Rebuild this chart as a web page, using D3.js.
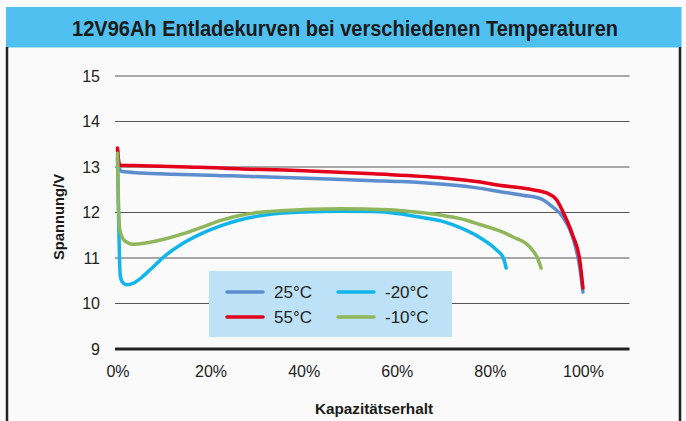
<!DOCTYPE html>
<html><head><meta charset="utf-8">
<script src="https://cdn.jsdelivr.net/npm/d3@7"></script>
<style>html,body{margin:0;padding:0;background:#fafafa;}svg{display:block;}</style>
</head><body>
<script>
const title = "12V96Ah Entladekurven bei verschiedenen Temperaturen";
const yTicks = [9, 10, 11, 12, 13, 14, 15];
const xTicks = [0, 20, 40, 60, 80, 100];
const seriesNames = ["25°C", "55°C", "-20°C", "-10°C"];
const seriesColors = ["#5b8dcf", "#e3001b", "#12b5ea", "#8fb65a"];

const cap25 = [0, 0.3, 0.6, 1, 5, 12, 22, 26, 39, 55, 61, 70, 78, 82, 87, 91, 93.5, 95.7, 97.8, 99.3, 100];
const v25   = [13.38, 13.0, 12.93, 12.9, 12.87, 12.84, 12.81, 12.8, 12.76, 12.7, 12.68, 12.62, 12.53, 12.46, 12.38, 12.3, 12.12, 11.9, 11.46, 10.8, 10.25];

const cap55 = [0, 0.3, 0.6, 5, 15, 22, 26, 40, 55, 70, 78, 82, 88, 92.2, 94.4, 96, 97.8, 99.3, 100];
const v55   = [13.42, 13.1, 13.04, 13.03, 13.0, 12.98, 12.96, 12.92, 12.85, 12.76, 12.67, 12.6, 12.52, 12.43, 12.27, 11.95, 11.5, 10.96, 10.34];

const capM20 = [0, 0.25, 0.6, 1.2, 2, 3.5, 5.5, 7, 10.6, 14, 17.7, 22, 26, 32, 40, 48, 55, 60, 66, 70, 74, 78, 81.5, 82.9, 83.5];
const vM20   = [13.2, 11.8, 10.6, 10.45, 10.41, 10.45, 10.6, 10.74, 11.08, 11.32, 11.52, 11.7, 11.83, 11.95, 12.01, 12.03, 12.02, 11.98, 11.88, 11.8, 11.65, 11.44, 11.17, 11.0, 10.78];

const capM10 = [0, 0.2, 0.5, 1.5, 3.4, 6, 10.6, 14, 17.7, 22, 26, 30, 35, 48, 58, 65, 69, 75, 78, 82, 85, 88.6, 90.4, 91];
const vM10   = [13.3, 12.2, 11.62, 11.38, 11.3, 11.33, 11.43, 11.53, 11.66, 11.82, 11.93, 12.0, 12.04, 12.08, 12.06, 12.0, 11.95, 11.83, 11.73, 11.6, 11.46, 11.24, 10.96, 10.78];

const seriesCaps = [cap25, cap55, capM20, capM10];
const seriesVals = [v25, v55, vM20, vM10];
const drawOrder = [0, 1, 2, 3];

const W = 686, H = 421;
const svg = d3.select("body").append("svg").attr("width", W).attr("height", H);
svg.append("rect").attr("width", W).attr("height", H).attr("fill", "#fafafa");

// frame
svg.append("rect").attr("x", 6).attr("y", 7).attr("width", 675.5).attr("height", 40.5).attr("fill", "#4fc0ef");
svg.append("line").attr("x1", 7).attr("x2", 7).attr("y1", 47).attr("y2", H).attr("stroke", "#222").attr("stroke-width", 2.5);
svg.append("line").attr("x1", 680).attr("x2", 680).attr("y1", 47).attr("y2", H).attr("stroke", "#222").attr("stroke-width", 2.5);

svg.append("text").attr("x", 345).attr("y", 36).attr("text-anchor", "middle")
  .attr("font-family", "'Liberation Sans', Arial, sans-serif")
  .attr("font-weight", "bold").attr("font-size", 22).attr("fill", "#1a1a1a")
  .attr("textLength", 546).attr("lengthAdjust", "spacingAndGlyphs")
  .text(title);

const x = d3.scaleLinear().domain([0, 110]).range([117.5, 629.5]);
const y = d3.scaleLinear().domain([9, 15]).range([349, 76]);

// grid
const grid = svg.append("g");
yTicks.forEach(t => {
  grid.append("line").attr("x1", 115).attr("x2", 629.5).attr("y1", y(t)).attr("y2", y(t))
    .attr("stroke", t === 9 ? "#222" : "#555").attr("stroke-width", t === 9 ? 3 : 1.2);
});

const yAxis = d3.axisLeft(y).tickValues(yTicks).tickSize(0).tickPadding(0).tickFormat(d3.format("d"));
const gy = svg.append("g").attr("transform", "translate(100,0)").call(yAxis);
gy.select(".domain").remove();
gy.selectAll("text").attr("font-family", "'Liberation Sans', Arial, sans-serif").attr("font-size", 16).attr("fill", "#222");

const xAxis = d3.axisBottom(x).tickValues(xTicks).tickSize(0).tickPadding(0).tickFormat(d => d + "%");
const gx = svg.append("g").attr("transform", "translate(0,366)").call(xAxis);
gx.select(".domain").remove();
gx.selectAll("text").attr("font-family", "'Liberation Sans', Arial, sans-serif").attr("font-size", 16).attr("fill", "#222");

svg.append("text").attr("x", 374).attr("y", 414).attr("text-anchor", "middle")
  .attr("font-family", "'Liberation Sans', Arial, sans-serif")
  .attr("font-weight", "bold").attr("font-size", 15).attr("fill", "#1a1a1a")
  .attr("textLength", 118).attr("lengthAdjust", "spacingAndGlyphs")
  .text("Kapazitätserhalt");

svg.append("text").attr("transform", "translate(64,217) rotate(-90)").attr("text-anchor", "middle")
  .attr("font-family", "'Liberation Sans', Arial, sans-serif")
  .attr("font-weight", "bold").attr("font-size", 15).attr("fill", "#1a1a1a")
  .attr("textLength", 86).attr("lengthAdjust", "spacingAndGlyphs")
  .text("Spannung/V");

// lines
const line = d3.line().x(d => x(d[0])).y(d => y(d[1])).curve(d3.curveMonotoneX);
drawOrder.forEach(i => {
  const pts = seriesCaps[i].map((c, j) => [c, seriesVals[i][j]]);
  svg.append("path").datum(pts).attr("d", line).attr("fill", "none")
    .attr("stroke", seriesColors[i]).attr("stroke-width", 3.5)
    .attr("stroke-linecap", "round").attr("stroke-linejoin", "round");
});

// legend
const lg = svg.append("g");
lg.append("rect").attr("x", 209).attr("y", 271).attr("width", 243).attr("height", 66).attr("fill", "#bde2f7");
const legPos = [[227, 292], [227, 317], [338, 292], [338, 317]];
seriesNames.forEach((n, i) => {
  const [lx, ly] = legPos[i];
  lg.append("line").attr("x1", lx).attr("x2", lx + 36).attr("y1", ly).attr("y2", ly)
    .attr("stroke", seriesColors[i]).attr("stroke-width", 3.5).attr("stroke-linecap", "round");
  lg.append("text").attr("x", lx + 47).attr("y", ly + 6).attr("font-family", "'Liberation Sans', Arial, sans-serif")
    .attr("font-size", 17).attr("fill", "#222").text(n);
});
</script>
</body></html>
